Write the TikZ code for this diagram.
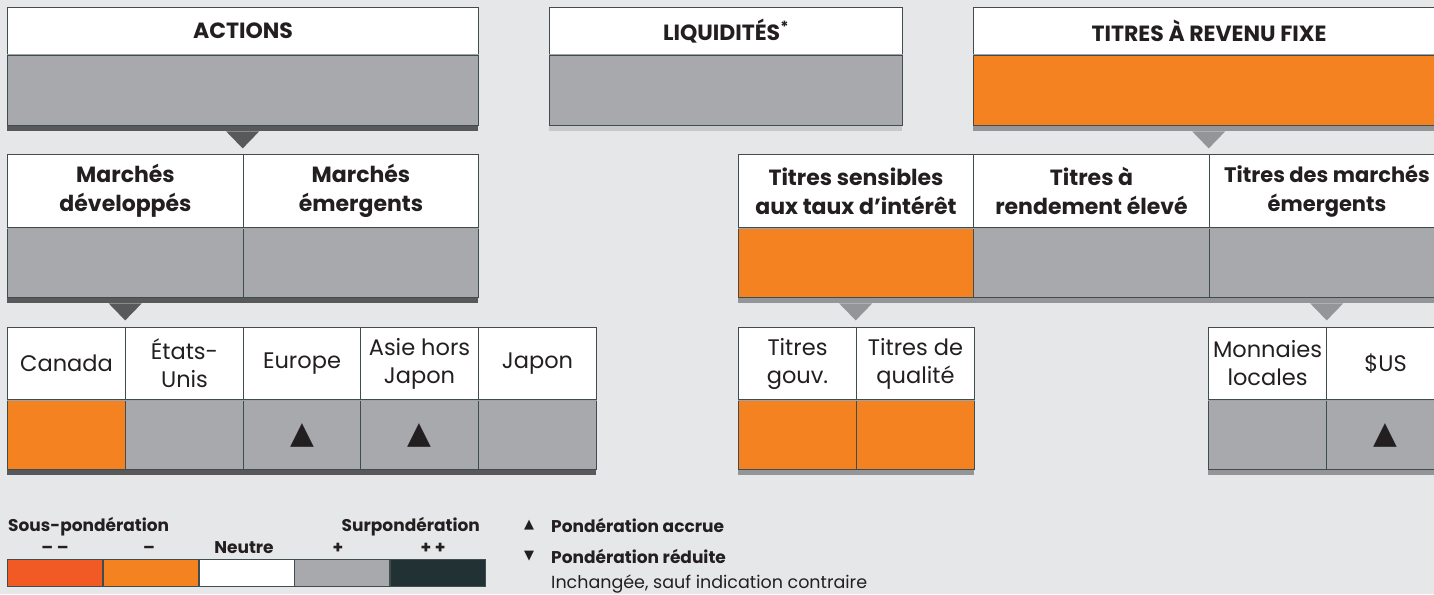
\documentclass[tikz,border=0pt]{standalone}
\usepackage{fontspec}
\setmainfont{Poppins}
\newfontfamily\symf{DejaVu Sans}
\usetikzlibrary{calc}
\definecolor{bgc}{HTML}{E6E7E8}
\definecolor{bordc}{HTML}{3F4D4E}
\definecolor{grayf}{HTML}{A7A9AC}
\definecolor{orangef}{HTML}{F58220}
\definecolor{orangedk}{HTML}{F15A24}
\definecolor{stripdk}{HTML}{58595B}
\definecolor{stripmd}{HTML}{939598}
\definecolor{striplt}{HTML}{C7C8CA}
\definecolor{sepc}{HTML}{A0A3A6}
\definecolor{txt}{HTML}{231F20}
\definecolor{darkf}{HTML}{213134}
\tikzset{
  hdrfont/.style={font=\fontsize{22}{29}\selectfont\bfseries},
  hdr/.style={draw=bordc, line width=1pt, fill=white, inner sep=0pt, align=center, text=txt, hdrfont},
  valbox/.style={draw=bordc, line width=1pt, inner sep=0pt},
  stripbox/.style={inner sep=0pt, minimum height=5pt, draw=none},
  sepline/.style={draw=sepc, line width=1pt},
  cellmark/.style={font=\symf\fontsize{31}{31}\selectfont, text=txt, inner sep=0pt},
  legb/.style={font=\fontsize{17}{20}\selectfont\bfseries, text=txt, inner sep=0pt},
  legr/.style={font=\fontsize{17.5}{20}\selectfont, text=txt, inner sep=0pt},
  legsym/.style={font=\symf\fontsize{13}{13}\selectfont, text=txt, inner sep=0pt},
  legbar/.style={draw=bordc, line width=0.8pt, inner sep=0pt, minimum width=95pt, minimum height=27pt, anchor=north west},
}
% #1 name, #2 x, #3 y, #4 width, #5 header h, #6 fill h, #7 text, #8 fill colour, #9 strip colour
\newcommand\mkcell[9]{%
  \node[hdr, minimum width=#4, minimum height=#5, anchor=north west] (#1h) at (#2,#3) {#7};
  \node[valbox, fill=#8, minimum width=#4, minimum height=#6, anchor=north west] (#1v) at (#1h.south west) {};
  \node[stripbox, fill=#9, minimum width=#4, anchor=north west] (#1s) at (#1v.south west) {};
  \draw[sepline] (#1h.south west) -- (#1h.south east);
}
\begin{document}
\begin{tikzpicture}[x=1pt,y=-1pt]
\useasboundingbox (0,0) rectangle (1434,594);
\fill[bgc] (0,0) rectangle (1434,594);
\clip (0,0) rectangle (1434,594);

% ---------- top row
\mkcell{act}{7}{7}{471}{47}{70}{ACTIONS}{grayf}{stripdk}
\mkcell{liq}{549}{7}{353}{47}{70}{LIQUIDITÉS\textsuperscript{*}}{grayf}{striplt}
\mkcell{rf}{973}{7}{471}{47}{70}{TITRES À REVENU FIXE}{orangef}{stripmd}

% ---------- middle row
\mkcell{md}{7}{154}{236}{73}{69}{Marchés\\développés}{grayf}{stripdk}
\mkcell{me}{243}{154}{235}{73}{69}{Marchés\\émergents}{grayf}{stripdk}
\mkcell{ts}{738}{154}{235}{73}{69}{Titres sensibles\\aux taux d’intérêt}{orangef}{stripmd}
\mkcell{tr}{973}{154}{236}{73}{69}{Titres à\\rendement élevé}{grayf}{stripmd}
\begin{scope}[hdrfont/.style={font=\fontsize{21}{29}\selectfont\bfseries}]
\mkcell{tm}{1209}{154}{235}{73}{69}{Titres des marchés\\émergents}{grayf}{stripmd}
\end{scope}

% ---------- bottom row
\begin{scope}[hdrfont/.style={font=\fontsize{22.5}{28}\selectfont}]
\mkcell{ca}{7}{327}{118}{72}{69}{Canada}{orangef}{stripdk}
\mkcell{us}{125}{327}{118}{72}{69}{États-\\Unis}{grayf}{stripdk}
\mkcell{eur}{243}{327}{117}{72}{69}{Europe}{grayf}{stripdk}
\mkcell{as}{360}{327}{118}{72}{69}{Asie hors\\Japon}{grayf}{stripdk}
\mkcell{ja}{478}{327}{118}{72}{69}{Japon}{grayf}{stripdk}
\mkcell{tg}{738}{327}{118}{72}{69}{Titres\\gouv.}{orangef}{stripmd}
\mkcell{tq}{856}{327}{118}{72}{69}{Titres de\\qualité}{orangef}{stripmd}
\mkcell{ml}{1208}{327}{118}{72}{69}{Monnaies\\locales}{grayf}{stripmd}
\mkcell{usd}{1326}{327}{118}{72}{69}{\$US}{grayf}{stripmd}
\end{scope}

% ---------- marks in cells
\node[cellmark] (eurm) at (eurv) {▲};
\node[cellmark] (asm) at (asv) {▲};
\node[cellmark] (usdm) at (usdv) {▲};

% ---------- connectors (pointers)
\fill[stripdk] ($(acts.south)+(-16.5,0)$) -- ($(acts.south)+(16.5,0)$) -- ($(acts.south)+(0,17)$) -- cycle;
\fill[stripmd] ($(rfs.south)+(-16.5,0)$) -- ($(rfs.south)+(16.5,0)$) -- ($(rfs.south)+(0,17)$) -- cycle;
\fill[stripdk] ($(mds.south)+(-16.5,0)$) -- ($(mds.south)+(16.5,0)$) -- ($(mds.south)+(0,17)$) -- cycle;
\fill[stripmd] ($(tss.south)+(-16.5,0)$) -- ($(tss.south)+(16.5,0)$) -- ($(tss.south)+(0,17)$) -- cycle;
\fill[stripmd] ($(tms.south)+(-16.5,0)$) -- ($(tms.south)+(16.5,0)$) -- ($(tms.south)+(0,17)$) -- cycle;

% ---------- legend
\node[legb, anchor=base west] (lsous) at (8,531) {Sous-pondération};
\node[legb, anchor=base east] (lsur) at (480,531) {Surpondération};
\node[legb, anchor=base] (lmm) at (55,553) {– –};
\node[legb, anchor=base] (lm) at (149,553) {–};
\node[legb, anchor=base] (lneu) at (244,553) {Neutre};
\node[legb, anchor=base] (lp) at (338,553) {+};
\node[legb, anchor=base] (lpp) at (433,553) {+ +};
\node[legbar, fill=orangedk] (b1) at (7,559) {};
\node[legbar, fill=orangef] (b2) at (b1.north east) {};
\node[legbar, fill=white] (b3) at (b2.north east) {};
\node[legbar, fill=grayf] (b4) at (b3.north east) {};
\node[legbar, fill=darkf] (b5) at (b4.north east) {};

\node[legsym] (tup) at (529,525) {▲};
\node[legb, anchor=base west] (lacc) at (551,532) {Pondération accrue};
\node[legsym] (tdn) at (529,556) {▼};
\node[legb, anchor=base west] (lred) at (551,563) {Pondération réduite};
\node[legr, anchor=base west] (linc) at (551,588) {Inchangée, sauf indication contraire};
\end{tikzpicture}
\end{document}
